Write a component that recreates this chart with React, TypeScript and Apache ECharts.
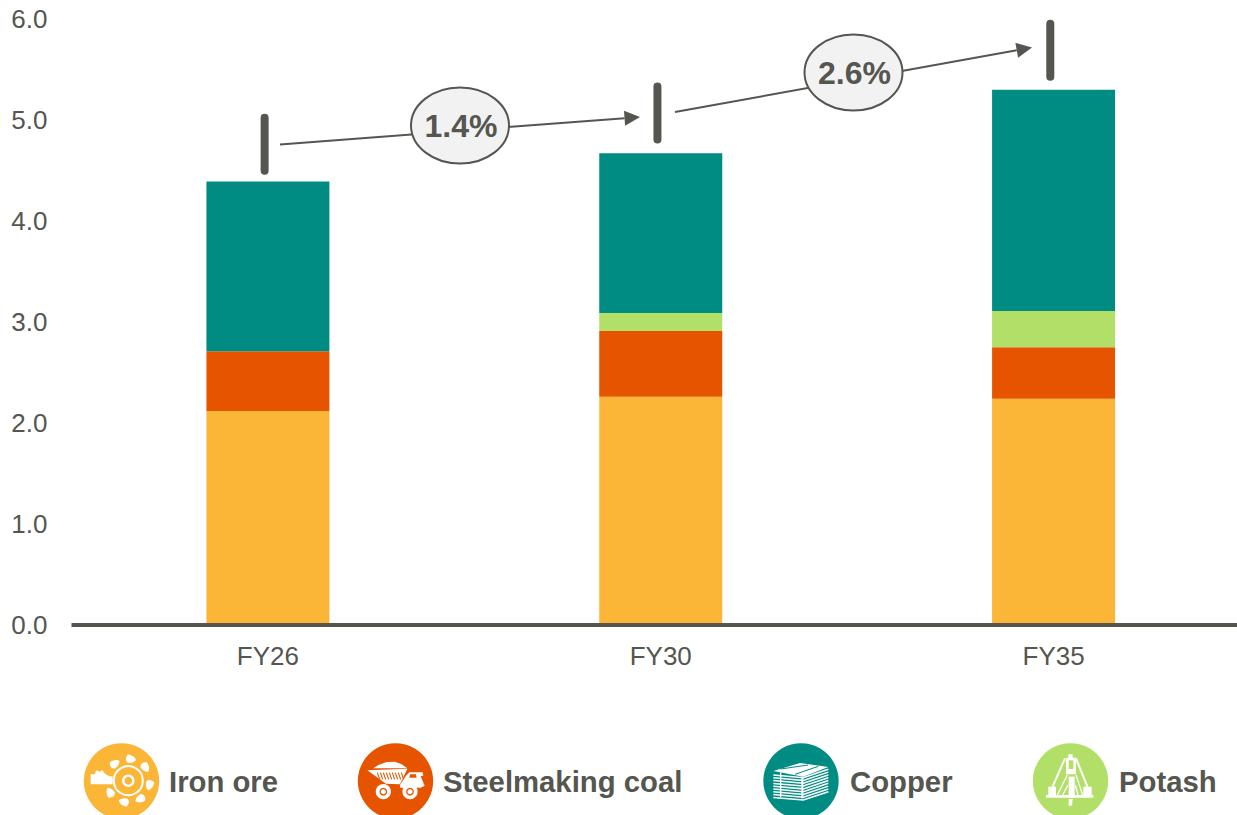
import React, { useEffect, useRef } from "react";
import * as echarts from "echarts";

const categories = ["FY26", "FY30", "FY35"];
const ironOre = [2.12, 2.26, 2.24];
const steelmakingCoal = [0.59, 0.65, 0.51];
const potash = [0, 0.18, 0.36];
const copper = [1.68, 1.58, 2.19];
const markerLevels = [4.76, 5.07, 5.69];
const growthLabels = ["1.4%", "2.6%"];
const legendNames = ["Iron ore", "Steelmaking coal", "Copper", "Potash"];

const IRON = "#FBB537";
const COAL = "#E65400";
const COPPER = "#008C82";
const POTASH = "#B1DF68";
const INK = "#54564F";
const FONT = '"Liberation Sans", Arial, sans-serif';
const WHITE = { fill: "#fff" };

echarts.graphic.registerShape(
  "bladeLeaf",
  echarts.graphic.extendPath("M-2.5 -18 C-5 -20 -5 -23 -2.5 -26 C1 -26 5 -24 6 -21 C4 -18.5 1 -17.5 -2.5 -18 Z", {})
);

const poly = (ox: number, oy: number, pts: number[][], style: any = WHITE) => ({
  type: "polygon",
  shape: { points: pts.map(([x, y]) => [ox + x / 3, oy + y / 3]) },
  style,
});
const line = (ox: number, oy: number, pts: number[][], color: string, w: number) => ({
  type: "polyline",
  shape: { points: pts.map(([x, y]) => [ox + x / 3, oy + y / 3]) },
  style: { stroke: color, lineWidth: w, fill: "none" },
});
const disc = (cx: number, cy: number, r: number, fill: string) => ({
  type: "circle",
  shape: { cx, cy, r },
  style: { fill },
});
const ringAt = (cx: number, cy: number, r: number, w: number, stroke: string) => ({
  type: "circle",
  shape: { cx, cy, r },
  style: { fill: "none", stroke, lineWidth: w },
});

function ironIcon() {
  const ox = 70, oy = 735;
  const cx = 128.3, cy = 780.7;
  const angles = [5, 50, 100, 145, 190, 235, 320];
  return [
    poly(ox, oy, [[62, 148], [62, 118], [75, 118], [78, 106], [90, 110], [96, 104], [105, 116], [118, 124], [128, 124], [128, 148]]),
    ringAt(cx, cy, 14.5, 2, "#fff"),
    ringAt(cx, cy, 5, 2.4, "#fff"),
    ...angles.map((deg) => ({
      type: "bladeLeaf",
      x: cx,
      y: cy,
      rotation: (-deg * Math.PI) / 180,
      style: WHITE,
    })),
  ];
}

function truckIcon() {
  const ox = 350, oy = 735;
  const hatch = [];
  for (let i = 0; i < 9; i++) {
    const x = 82 + i * 9;
    hatch.push(line(ox, oy, [[x, 113], [x + 7, 133]], COAL, 1.1));
  }
  return [
    poly(ox, oy, [[70, 100], [85, 90], [110, 81], [135, 80], [155, 88], [172, 100]]),
    poly(ox, oy, [[52, 106], [172, 101], [150, 148], [108, 146]]),
    ...hatch,
    poly(ox, oy, [[150, 150], [168, 122], [178, 112], [218, 112], [220, 122], [212, 124], [224, 152], [212, 158], [150, 158]]),
    poly(ox, oy, [[180, 118], [198, 118], [200, 128], [178, 128]], { fill: COAL }),
    disc(ox + 100 / 3, oy + 170 / 3, 7.6, "#fff"),
    ringAt(ox + 100 / 3, oy + 170 / 3, 3.2, 1.3, COAL),
    disc(ox + 180 / 3, oy + 170 / 3, 7.6, "#fff"),
    ringAt(ox + 180 / 3, oy + 170 / 3, 3.2, 1.3, COAL),
  ];
}

function copperIcon() {
  const ox = 750, oy = 735;
  const stripes = [];
  for (let i = 0; i < 9; i++) {
    const d = i * 8.4;
    stripes.push(line(ox, oy, [[70, 120 + d], [160, 128 + d], [235, 103 + d]], "#fff", 1.5));
  }
  return [
    poly(ox, oy, [[70, 108], [150, 84], [235, 96], [160, 125]]),
    line(ox, oy, [[92, 102], [174, 90]], COPPER, 1),
    line(ox, oy, [[135, 118], [205, 94]], COPPER, 1),
    ...stripes,
    poly(ox, oy, [[90, 112], [94, 112], [94, 186], [90, 186]]),
    poly(ox, oy, [[154, 125], [160, 125], [160, 190], [154, 190]]),
  ];
}

function potashIcon() {
  const ox = 1020, oy = 735;
  return [
    poly(ox, oy, [[78, 180], [220, 180], [220, 188], [78, 188]]),
    poly(ox, oy, [[85, 155], [108, 155], [108, 180], [85, 180]]),
    poly(ox, oy, [[190, 155], [215, 155], [215, 180], [190, 180]]),
    poly(ox, oy, [[146, 125], [164, 125], [164, 188], [146, 188]]),
    poly(ox, oy, [[146, 192], [158, 192], [156, 212], [146, 212]]),
    ...derrick(ox, oy),
    line(ox, oy, [[98, 155], [135, 70]], "#fff", 2),
    line(ox, oy, [[202, 155], [168, 70]], "#fff", 2),
    line(ox, oy, [[112, 180], [142, 120]], "#fff", 1.3),
    line(ox, oy, [[188, 180], [168, 120]], "#fff", 1.3),
    line(ox, oy, [[128, 180], [144, 150]], "#fff", 1.3),
    line(ox, oy, [[174, 180], [166, 150]], "#fff", 1.3),
  ];
}

function derrick(ox: number, oy: number) {
  return [
    poly(ox, oy, [[138, 68], [145, 68], [145, 58], [158, 58], [158, 68], [168, 68], [168, 118], [138, 118]]),
    poly(ox, oy, [[146, 76], [160, 76], [160, 102], [146, 102]], { fill: POTASH }),
  ];
}

function arrow(x1: number, y1: number, x2: number, y2: number) {
  const a = Math.atan2(y2 - y1, x2 - x1);
  const len = 15.5, half = 7.5;
  const bx = x2 - len * Math.cos(a), by = y2 - len * Math.sin(a);
  const nx = -Math.sin(a), ny = Math.cos(a);
  return [
    {
      type: "line",
      shape: { x1, y1, x2: bx, y2: by },
      style: { stroke: INK, lineWidth: 2 },
    },
    {
      type: "polygon",
      shape: { points: [[x2, y2], [bx + nx * half, by + ny * half], [bx - nx * half, by - ny * half]] },
      style: { fill: INK },
    },
  ];
}

function oval(cx: number, cy: number, label: string) {
  return [
    {
      type: "ellipse",
      shape: { cx, cy, rx: 49, ry: 38 },
      style: { fill: "#F2F2F2", stroke: INK, lineWidth: 2 },
    },
    {
      type: "text",
      x: cx + 1,
      y: cy + 0.5,
      style: {
        text: label,
        fill: INK,
        font: `bold 32px ${FONT}`,
        textAlign: "center",
        textVerticalAlign: "middle",
      },
    },
  ];
}

function legendItem(cx: number, textX: number, color: string, name: string, icon: any[]) {
  return [
    disc(cx, 781, 37.7, color),
    ...icon,
    {
      type: "text",
      x: textX,
      y: 781,
      style: {
        text: name,
        fill: INK,
        font: `bold 29.3px ${FONT}`,
        textAlign: "left",
        textVerticalAlign: "middle",
      },
    },
  ];
}

function bar(name: string, data: number[], color: string) {
  return {
    name,
    type: "bar",
    stack: "total",
    data,
    barWidth: 123,
    itemStyle: { color },
    z: 2,
  };
}

export default function App() {
  const ref = useRef<HTMLDivElement>(null);
  useEffect(() => {
    document.body.style.margin = "0";
    const chart = echarts.init(ref.current!, null, { renderer: "svg" });
    chart.setOption({
      animation: false,
      backgroundColor: "#fff",
      grid: { left: 71.5, top: 19, width: 1178.5, height: 606, outerBoundsMode: "none" },
      xAxis: {
        type: "category",
        data: categories,
        axisTick: { show: false },
        axisLine: { lineStyle: { color: INK, width: 4, cap: "butt" } },
        axisLabel: { color: INK, fontSize: 26, fontFamily: FONT, margin: 18 },
        z: 5,
      },
      yAxis: {
        type: "value",
        min: 0,
        max: 6,
        interval: 1,
        axisLine: { show: false },
        axisTick: { show: false },
        splitLine: { show: false },
        axisLabel: {
          color: INK,
          fontSize: 26,
          fontFamily: FONT,
          margin: 24,
          formatter: (v: number) => v.toFixed(1),
        },
      },
      series: [
        bar(legendNames[0], ironOre, IRON),
        bar(legendNames[1], steelmakingCoal, COAL),
        bar("Potash", potash, POTASH),
        bar("Copper", copper, COPPER),
        {
          type: "custom",
          data: markerLevels.map((v, i) => [i, v]),
          encode: { x: 0, y: 1 },
          z: 6,
          renderItem: (_: any, api: any) => {
            const [x, y] = api.coord([api.value(0), api.value(1)]);
            return {
              type: "rect",
              shape: { x: x - 3.3 - 4, y: y - 30.5, width: 8, height: 61, r: 4 },
              style: { fill: INK },
            };
          },
        },
      ],
      graphic: [
        ...arrow(280, 144.5, 640, 117),
        ...arrow(675, 112, 1032, 47.5),
        ...oval(460, 125.5, growthLabels[0]),
        ...oval(853.5, 72.5, growthLabels[1]),
        ...legendItem(121.5, 169, IRON, legendNames[0], ironIcon()),
        ...legendItem(395.5, 443, COAL, legendNames[1], truckIcon()),
        ...legendItem(801, 850, COPPER, legendNames[2], copperIcon()),
        ...legendItem(1070.5, 1119, POTASH, legendNames[3], potashIcon()),
      ],
    });
    return () => chart.dispose();
  }, []);
  return <div ref={ref} style={{ width: 1237, height: 815 }} />;
}
